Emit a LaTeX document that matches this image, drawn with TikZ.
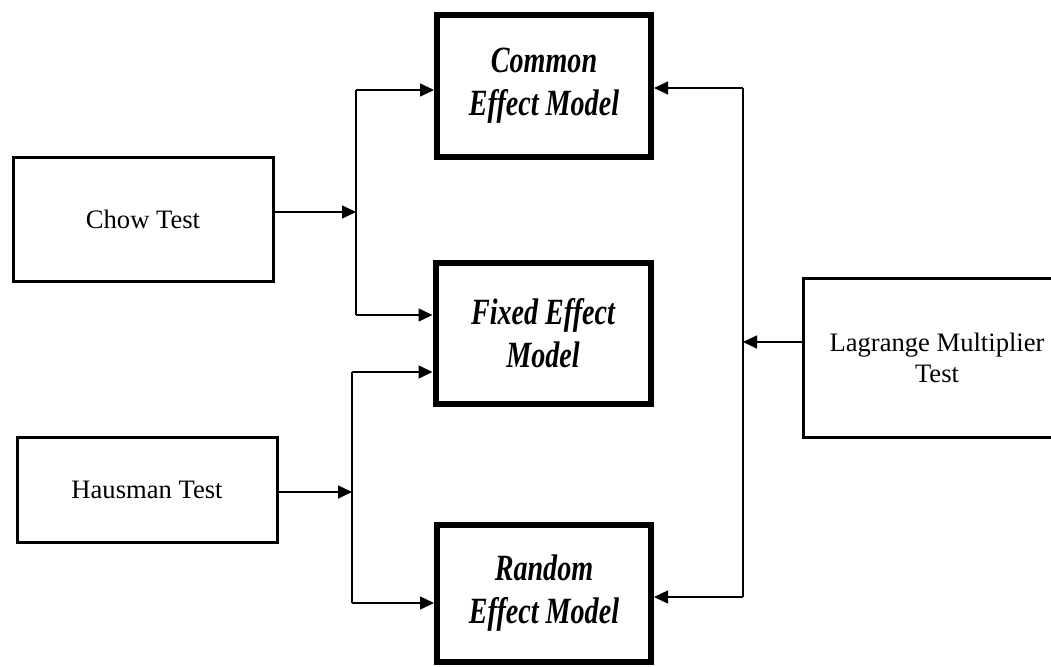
\documentclass[tikz,border=0pt]{standalone}
\usepackage{fontspec}
\setmainfont{Liberation Serif}
\newfontfamily\modelfont{Liberation Serif}[FakeStretch=0.76]
\usetikzlibrary{arrows.meta}
\tikzset{
  testbox/.style={draw, line width=3pt, align=center, inner sep=0pt,
    font=\fontsize{26.6}{31}\selectfont},
  modelbox/.style={draw, line width=6pt, align=center, inner sep=0pt,
    font=\modelfont\bfseries\itshape\fontsize{37}{43}\selectfont},
  conn/.style={line width=1.5pt, -{Triangle[length=14pt,width=13pt]}},
  seg/.style={line width=1.5pt}
}
\begin{document}
\begin{tikzpicture}[x=1pt,y=-1pt]
\useasboundingbox (0,0) rectangle (1051,666);
\node[testbox, minimum width=260pt, minimum height=124pt] (chow) at (143,219) {Chow Test};
\node[testbox, minimum width=260pt, minimum height=105pt] (haus) at (147,489.5) {Hausman Test};
\node[testbox, minimum width=268pt, minimum height=159pt] (lm) at (937,357.5) {Lagrange Multiplier\\Test};
\node[modelbox, minimum width=214pt, minimum height=142pt] (cem) at (544,86) {Common\\Effect Model};
\node[modelbox, minimum width=215pt, minimum height=141pt] (fem) at (543,333.5) {Fixed Effect\\Model};
\node[modelbox, minimum width=214pt, minimum height=137pt] (rem) at (544,593.5) {Random\\Effect Model};
% Chow branch
\coordinate (c1) at (356,212);
\coordinate (ct) at (356,90);
\coordinate (cb) at (356,315);
\draw[conn] (chow.east |- c1) -- (c1);
\draw[seg] (ct) -- (cb);
\draw[conn] (ct) -- (cem.west |- ct);
\draw[conn] (cb) -- (fem.west |- cb);
% Hausman branch
\coordinate (h1) at (352,492);
\coordinate (ht) at (352,372);
\coordinate (hb) at (352,603);
\draw[conn] (haus.east |- h1) -- (h1);
\draw[seg] (ht) -- (hb);
\draw[conn] (ht) -- (fem.west |- ht);
\draw[conn] (hb) -- (rem.west |- hb);
% Lagrange branch
\coordinate (l1) at (743,342);
\coordinate (lt) at (743,88);
\coordinate (lb) at (743,597);
\draw[conn] (lm.west |- l1) -- (l1);
\draw[seg] (lt) -- (lb);
\draw[conn] (lt) -- (cem.east |- lt);
\draw[conn] (lb) -- (rem.east |- lb);
\end{tikzpicture}
\end{document}
